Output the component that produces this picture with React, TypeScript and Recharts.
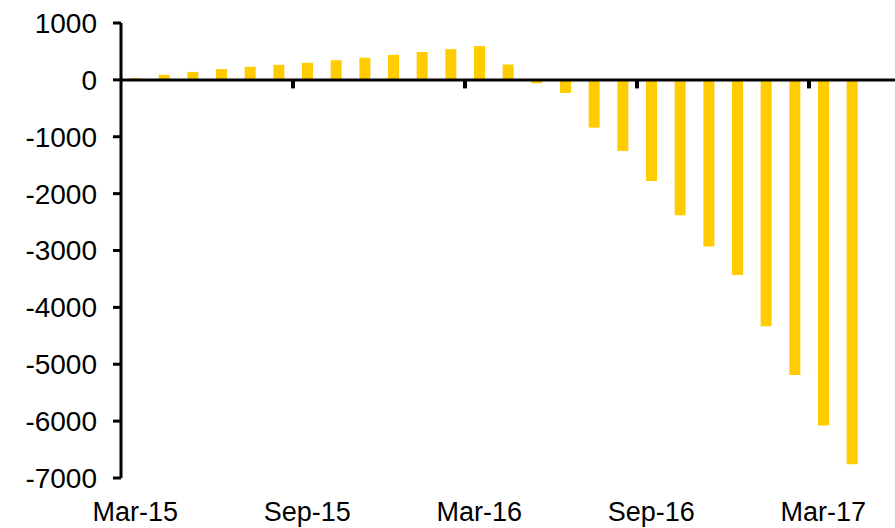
import React from "react";
import { BarChart, Bar, XAxis, YAxis, ReferenceLine } from "recharts";

const months = [
  "Mar-15", "Apr-15", "May-15", "Jun-15", "Jul-15", "Aug-15",
  "Sep-15", "Oct-15", "Nov-15", "Dec-15", "Jan-16", "Feb-16",
  "Mar-16", "Apr-16", "May-16", "Jun-16", "Jul-16", "Aug-16",
  "Sep-16", "Oct-16", "Nov-16", "Dec-16", "Jan-17", "Feb-17",
  "Mar-17", "Apr-17", "May-17",
];

const values: (number | null)[] = [
  30, 90, 140, 190, 230, 265,
  300, 345, 390, 440, 490, 540,
  595, 270, -60, -230, -840, -1250,
  -1780, -2380, -2930, -3430, -4330, -5190,
  -6075, -6760, null,
];

const yTicks = [1000, 0, -1000, -2000, -3000, -4000, -5000, -6000, -7000];
const markerMonths = ["Sep-15", "Mar-16", "Sep-16", "Mar-17"];

const data = months.map((m, i) => ({ month: m, value: values[i] }));

const font = "Arial, 'Liberation Sans', sans-serif";

export default function App() {
  return (
    <div style={{ position: "absolute", left: 0, top: 0, background: "#fff" }}>
      <BarChart
        width={895}
        height={528}
        data={data}
        margin={{ top: 23, right: 0, bottom: 0, left: 0 }}
      >
        <XAxis
          dataKey="month"
          interval={5}
          height={50}
          axisLine={false}
          tickLine={false}
          tickSize={0}
          tickMargin={24}
          tick={{ fill: "#000", fontSize: 27, fontFamily: font }}
        />
        <YAxis
          width={121}
          domain={[-7000, 1000]}
          ticks={yTicks}
          interval={0}
          axisLine={{ stroke: "#000", strokeWidth: 3 }}
          tickLine={{ stroke: "#000", strokeWidth: 3 }}
          tickSize={8}
          tickMargin={16}
          tick={{ fill: "#000", fontSize: 28, fontFamily: font }}
        />
        <Bar dataKey="value" fill="#FFCC00" barSize={11} isAnimationActive={false} />
        <ReferenceLine y={0} stroke="#000" strokeWidth={3} ifOverflow="visible" />
        {markerMonths.map((m) => (
          <ReferenceLine
            key={m}
            position="start"
            segment={[
              { x: m, y: 0 },
              { x: m, y: -150 },
            ]}
            stroke="#000"
            strokeWidth={4}
            ifOverflow="visible"
          />
        ))}
      </BarChart>
    </div>
  );
}
